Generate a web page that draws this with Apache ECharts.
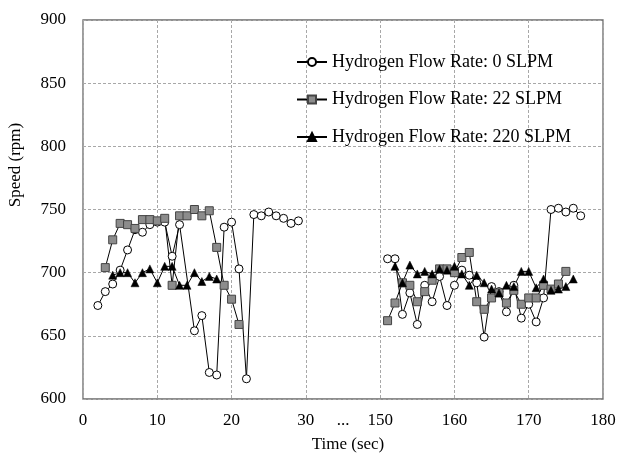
<!DOCTYPE html>
<html><head><meta charset="utf-8">
<script src="https://cdn.jsdelivr.net/npm/echarts@6/dist/echarts.min.js"></script>
<style>html,body{margin:0;padding:0;background:#fff}#c{width:619px;height:454px}</style>
</head><body><div id="c"></div>
<script>
// ---- data (time in sec, speed in rpm) ----
const seriesNames = ['Hydrogen Flow Rate: 0 SLPM', 'Hydrogen Flow Rate: 22 SLPM', 'Hydrogen Flow Rate: 220 SLPM'];

const h0TimeA  = [2,3,4,5,6,7,8,9,10,11,12,13,15,16,17,18,19,20,21,22,23,24,25,26,27,28,29];
const h0SpeedA = [674,685,691,702,718,734,732,738,740,740,713,738,654,666,621,619,736,740,703,616,746,745,748,745,743,739,741];
const h0TimeB  = [151,152,153,154,155,156,157,158,159,160,161,162,163,164,165,166,167,168,169,170,171,172,173,174,175,176,177];
const h0SpeedB = [711,711,667,684,659,690,677,697,674,690,702,698,692,649,689,685,669,690,664,675,661,680,750,751,748,751,745];

const h22TimeA  = [3,4,5,6,7,8,9,10,11,12,13,14,15,16,17,18,19,20,21];
const h22SpeedA = [704,726,739,738,735,742,742,741,743,690,745,745,750,745,749,720,690,679,659];
const h22TimeB  = [151,152,153,154,155,156,157,158,159,160,161,162,163,164,165,166,167,168,169,170,171,172,173,174,175];
const h22SpeedB = [662,676,692,690,677,685,694,703,703,700,712,716,677,671,680,684,676,686,675,680,680,690,687,691,701];

const h220TimeA  = [4,5,6,7,8,9,10,11,12,13,14,15,16,17,18];
const h220SpeedA = [698,700,700,692,700,703,692,705,705,690,690,700,693,697,695];
const h220TimeB  = [152,153,154,155,156,157,158,159,160,161,162,163,164,165,166,167,168,169,170,171,172,173,174,175,176];
const h220SpeedB = [705,692,706,699,701,699,703,702,705,699,690,698,692,687,684,690,689,701,701,688,695,686,687,689,695];

const xTickValues = [0,10,20,30,'...',150,160,170,180];
const yMin = 600, yMax = 900, yStep = 50;

// axis break: 30 -> 150 collapsed into one interval
const BREAK_LO = 30, BREAK_HI = 150, BREAK_SPAN = 10;
function toAxis(t){ return t <= BREAK_LO ? t : t - (BREAK_HI - BREAK_LO - BREAK_SPAN); }
function fromAxis(v){ return v <= BREAK_LO ? v : v + (BREAK_HI - BREAK_LO - BREAK_SPAN); }

function build(tA, sA, tB, sB){
  const d = tA.map((t,i)=>[toAxis(t), sA[i]]);
  d.push([BREAK_LO + BREAK_SPAN/2, '-']);
  tB.forEach((t,i)=>d.push([toAxis(t), sB[i]]));
  return d;
}

const FONT = '"Liberation Serif","Times New Roman",serif';
const chart = echarts.init(document.getElementById('c'), null, {renderer:'canvas'});

const xMax = toAxis(180);
const labelVals = [0,10,20,30,BREAK_LO + BREAK_SPAN/2,40,50,60,70];

chart.setOption({
  animation:false,
  backgroundColor:'#fff',
  grid:{left:83, right:16, top:20, bottom:55, show:true, borderColor:'#6a6a6a', borderWidth:1.3, backgroundColor:'transparent'},
  xAxis:{
    type:'value', min:0, max:xMax, interval:10,
    axisLine:{show:false}, axisTick:{show:false},
    splitLine:{show:true, lineStyle:{color:'#a8a8a8', type:[3,2], width:1}},
    axisLabel:{
      customValues: labelVals,
      margin:13, color:'#000', fontFamily:FONT, fontSize:17,
      formatter:function(v){ return v === BREAK_LO + BREAK_SPAN/2 ? xTickValues[4] : String(fromAxis(v)); }
    }
  },
  yAxis:{
    type:'value', min:yMin, max:yMax, interval:yStep,
    axisLine:{show:false}, axisTick:{show:false},
    splitLine:{show:true, lineStyle:{color:'#a8a8a8', type:[3,2], width:1}},
    axisLabel:{margin:17, color:'#000', fontFamily:FONT, fontSize:17}
  },
  legend:{
    orient:'vertical', left:296, top:53, padding:0, itemGap:19.5, itemWidth:30, itemHeight:10,
    textStyle:{color:'#000', fontFamily:FONT, fontSize:18},
    data:seriesNames
  },
  series:[
    {name:seriesNames[0], type:'line', data:build(h0TimeA,h0SpeedA,h0TimeB,h0SpeedB),
     symbol:'circle', symbolSize:8, connectNulls:false,
     lineStyle:{color:'#000', width:1}, itemStyle:{color:'#fff', borderColor:'#000', borderWidth:1}},
    {name:seriesNames[1], type:'line', data:build(h22TimeA,h22SpeedA,h22TimeB,h22SpeedB),
     symbol:'rect', symbolSize:8, connectNulls:false,
     lineStyle:{color:'#000', width:1}, itemStyle:{color:'#8c8c8c', borderColor:'#444', borderWidth:1}},
    {name:seriesNames[2], type:'line', data:build(h220TimeA,h220SpeedA,h220TimeB,h220SpeedB),
     symbol:'triangle', symbolSize:8, connectNulls:false,
     lineStyle:{color:'#000', width:1}, itemStyle:{color:'#000', borderColor:'#000', borderWidth:0.5}}
  ],
  graphic:[
    {type:'text', x:16, y:165, rotation:Math.PI/2,
     style:{text:'Speed (rpm)', fill:'#000', font:'17px ' + FONT, textAlign:'center', textVerticalAlign:'middle'}},
    {type:'text', x:348, y:445,
     style:{text:'Time (sec)', fill:'#000', font:'17px ' + FONT, textAlign:'center', textVerticalAlign:'middle'}}
  ]
});
</script></body></html>
